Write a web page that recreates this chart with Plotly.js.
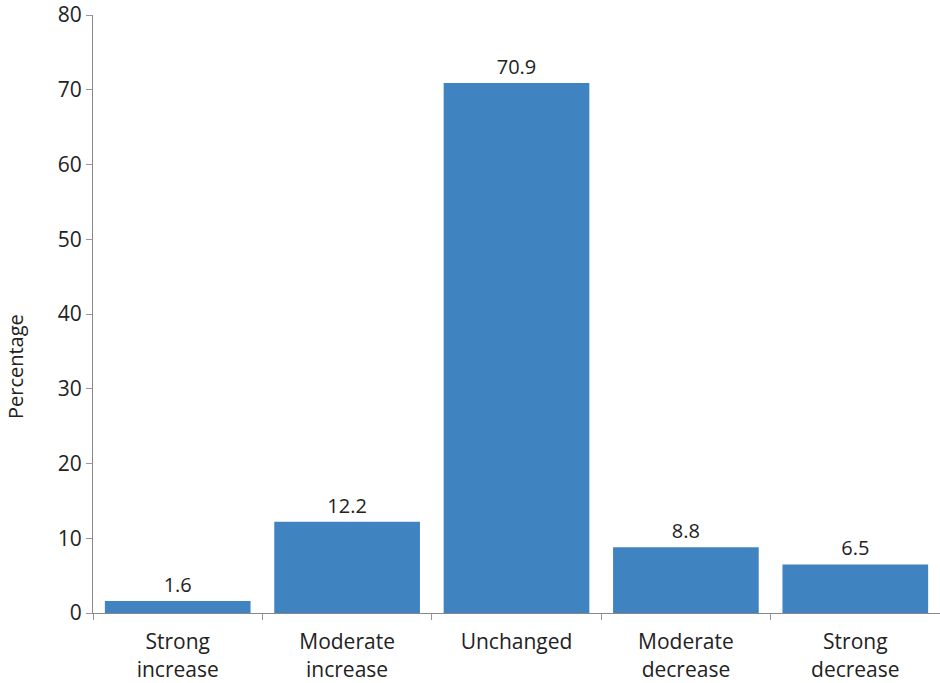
<!DOCTYPE html>
<html><head><meta charset="utf-8">
<script src="https://cdn.plot.ly/plotly-3.0.1.min.js"></script>
<style>body{margin:0;}#c{width:940px;height:683px;}</style>
</head><body><div id="c"></div>
<script>
const categories = ["Strong<br>increase","Moderate<br>increase","Unchanged","Moderate<br>decrease","Strong<br>decrease"];
const values = [1.6, 12.2, 70.9, 8.8, 6.5];
const labels = ["1.6","12.2","70.9","8.8","6.5"];
const yTicks = [0,10,20,30,40,50,60,70,80];
const yTitle = "Percentage";

const font = "Open Sans, Liberation Sans, sans-serif";
Plotly.newPlot("c", [{
  type: "bar", x: categories, y: values,
  text: labels, textposition: "outside", cliponaxis: false,
  textfont: {family: font, size: 20, color: "#222"},
  marker: {color: "#3f84c0"}, hoverinfo: "none"
}], {
  width: 940, height: 683,
  margin: {l: 93, r: 0, t: 15, b: 70},
  paper_bgcolor: "#fff", plot_bgcolor: "#fff",
  bargap: 0.14,
  showlegend: false,
  xaxis: {type: "category", tickson: "boundaries", ticks: "outside", ticklen: 6, tickcolor: "#999",
    showline: true, linecolor: "#888", linewidth: 1, showgrid: false, ticklabelstandoff: 10,
    tickfont: {family: font, size: 21, color: "#222"}},
  yaxis: {range: [0, 80], tickvals: yTicks, ticks: "outside", ticklen: 6, tickcolor: "#999",
    showline: true, linecolor: "#888", linewidth: 1, showgrid: false, zeroline: false,
    tickfont: {family: font, size: 21, color: "#222"}},
  annotations: [{text: yTitle, textangle: -90, xref: "paper", yref: "paper",
    x: -0.0921, y: 0.413, xanchor: "center", yanchor: "middle", showarrow: false,
    font: {family: font, size: 20, color: "#222"}}]
}, {displayModeBar: false, staticPlot: true});
</script></body></html>
